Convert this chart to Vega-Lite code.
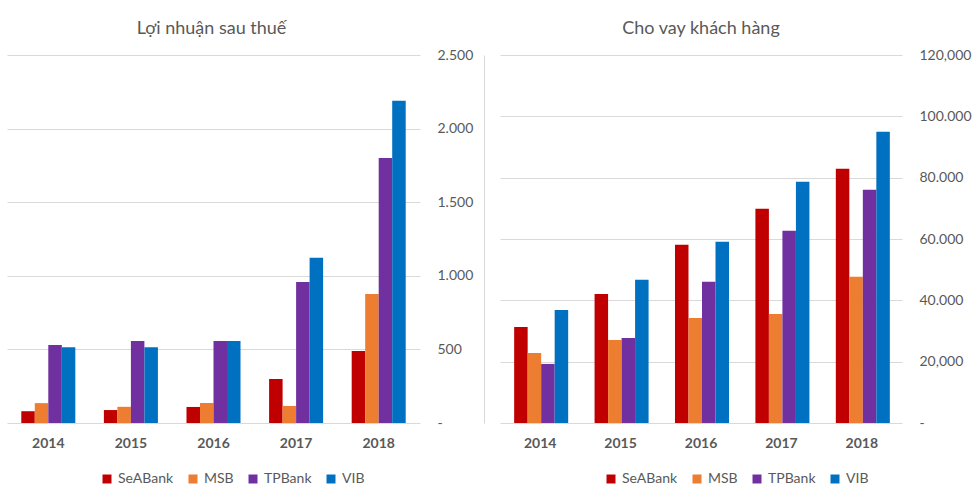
{
  "$schema": "https://vega.github.io/schema/vega-lite/v6.json",
  "background": "white",
  "padding": {"left": 7, "top": 20, "right": 0, "bottom": 0},
  "config": {
    "font": "Lato",
    "view": {"stroke": null},
    "concat": {"spacing": 11},
    "axis": {"labelColor": "#595959", "labelFont": "Lato", "gridColor": "#d9d9d9", "gridWidth": 1},
    "legend": {"labelColor": "#595959", "labelFontSize": 14, "labelFont": "Lato"}
  },
  "resolve": {"scale": {"color": "independent"}, "legend": {"color": "independent"}},
  "data": {
    "values": [
      {"year": "2014", "bank": "SeABank", "profit": 80, "loans": 31300},
      {"year": "2014", "bank": "MSB", "profit": 135, "loans": 22850},
      {"year": "2014", "bank": "TPBank", "profit": 530, "loans": 19260},
      {"year": "2014", "bank": "VIB", "profit": 515, "loans": 36880},
      {"year": "2015", "bank": "SeABank", "profit": 88, "loans": 42100},
      {"year": "2015", "bank": "MSB", "profit": 110, "loans": 27090},
      {"year": "2015", "bank": "TPBank", "profit": 557, "loans": 27740},
      {"year": "2015", "bank": "VIB", "profit": 515, "loans": 46680},
      {"year": "2016", "bank": "SeABank", "profit": 109, "loans": 58100},
      {"year": "2016", "bank": "MSB", "profit": 136, "loans": 34270},
      {"year": "2016", "bank": "TPBank", "profit": 557, "loans": 46020},
      {"year": "2016", "bank": "VIB", "profit": 557, "loans": 59080},
      {"year": "2017", "bank": "SeABank", "profit": 299, "loans": 69850},
      {"year": "2017", "bank": "MSB", "profit": 116, "loans": 35580},
      {"year": "2017", "bank": "TPBank", "profit": 958, "loans": 62670},
      {"year": "2017", "bank": "VIB", "profit": 1122, "loans": 78660},
      {"year": "2018", "bank": "SeABank", "profit": 489, "loans": 82900},
      {"year": "2018", "bank": "MSB", "profit": 877, "loans": 47650},
      {"year": "2018", "bank": "TPBank", "profit": 1801, "loans": 76050},
      {"year": "2018", "bank": "VIB", "profit": 2189, "loans": 94980}
    ]
  },
  "hconcat": [
    {
      "width": 413,
      "height": 368,
      "title": {"text": "Lợi nhuận sau thuế", "fontSize": 18, "fontWeight": "normal", "color": "#595959", "anchor": "middle", "offset": 10, "dx": -2},
      "mark": {"type": "bar"},
      "encoding": {
        "x": {"field": "year", "type": "nominal", "scale": {"paddingInner": 0.346, "paddingOuter": 0.173},
          "axis": {"title": null, "labelAngle": 0, "ticks": false, "domain": false, "labelFontWeight": "bold", "labelFontSize": 14, "labelPadding": 13}},
        "xOffset": {"field": "bank", "type": "nominal", "sort": ["SeABank", "MSB", "TPBank", "VIB"]},
        "y": {"field": "profit", "type": "quantitative", "scale": {"domain": [0, 2500]},
          "axis": {"orient": "right", "values": [0, 500, 1000, 1500, 2000, 2500], "title": null, "domain": false, "ticks": false, "labelAlign": "left", "labelPadding": 17, "labelFontSize": 14,
            "labelExpr": "datum.value == 0 ? '-' : replace(format(datum.value, ','), ',', '.')"}},
        "color": {"field": "bank", "type": "nominal", "sort": ["SeABank", "MSB", "TPBank", "VIB"],
          "scale": {"domain": ["SeABank", "MSB", "TPBank", "VIB"], "range": ["#C00000", "#ED7D31", "#7030A0", "#0070C0"]},
          "legend": {"orient": "none", "legendX": 93, "legendY": 417, "direction": "horizontal", "title": null, "symbolType": "square", "symbolSize": 81, "symbolStrokeWidth": 0, "labelOffset": 4, "columnPadding": 12}}
      }
    },
    {
      "width": 402,
      "height": 368,
      "title": {"text": "Cho vay khách hàng", "fontSize": 18, "fontWeight": "normal", "color": "#595959", "anchor": "middle", "offset": 10},
      "resolve": {"axis": {"y": "independent"}},
      "layer": [
        {
          "mark": {"type": "bar"},
          "encoding": {
            "x": {"field": "year", "type": "nominal", "scale": {"paddingInner": 0.353, "paddingOuter": 0.176},
              "axis": {"title": null, "labelAngle": 0, "ticks": false, "domain": false, "labelFontWeight": "bold", "labelFontSize": 14, "labelPadding": 13}},
            "xOffset": {"field": "bank", "type": "nominal", "sort": ["SeABank", "MSB", "TPBank", "VIB"]},
            "y": {"field": "loans", "type": "quantitative", "scale": {"domain": [0, 120000]},
              "axis": {"orient": "right", "values": [0, 20000, 40000, 60000, 80000, 100000, 120000], "title": null, "domain": false, "ticks": false, "labelAlign": "left", "labelPadding": 17, "labelFontSize": 14,
                "labelExpr": "datum.value == 0 ? '-' : (datum.value == 120000 || datum.value == 20000) ? format(datum.value, ',') : replace(format(datum.value, ','), ',', '.')"}},
            "color": {"field": "bank", "type": "nominal", "sort": ["SeABank", "MSB", "TPBank", "VIB"],
              "scale": {"domain": ["SeABank", "MSB", "TPBank", "VIB"], "range": ["#C00000", "#ED7D31", "#7030A0", "#0070C0"]},
              "legend": {"orient": "none", "legendX": 104, "legendY": 417, "direction": "horizontal", "title": null, "symbolType": "square", "symbolSize": 81, "symbolStrokeWidth": 0, "labelOffset": 4, "columnPadding": 12}}
          }
        },
        {
          "mark": {"type": "bar", "opacity": 0},
          "encoding": {
            "x": {"field": "year", "type": "nominal"},
            "xOffset": {"field": "bank", "type": "nominal", "sort": ["SeABank", "MSB", "TPBank", "VIB"]},
            "y": {"field": "loans", "type": "quantitative",
              "axis": {"orient": "left", "title": null, "labels": false, "ticks": false, "grid": false, "domain": true, "domainColor": "#d9d9d9", "domainWidth": 1, "offset": 16}}
          }
        }
      ]
    }
  ]
}
